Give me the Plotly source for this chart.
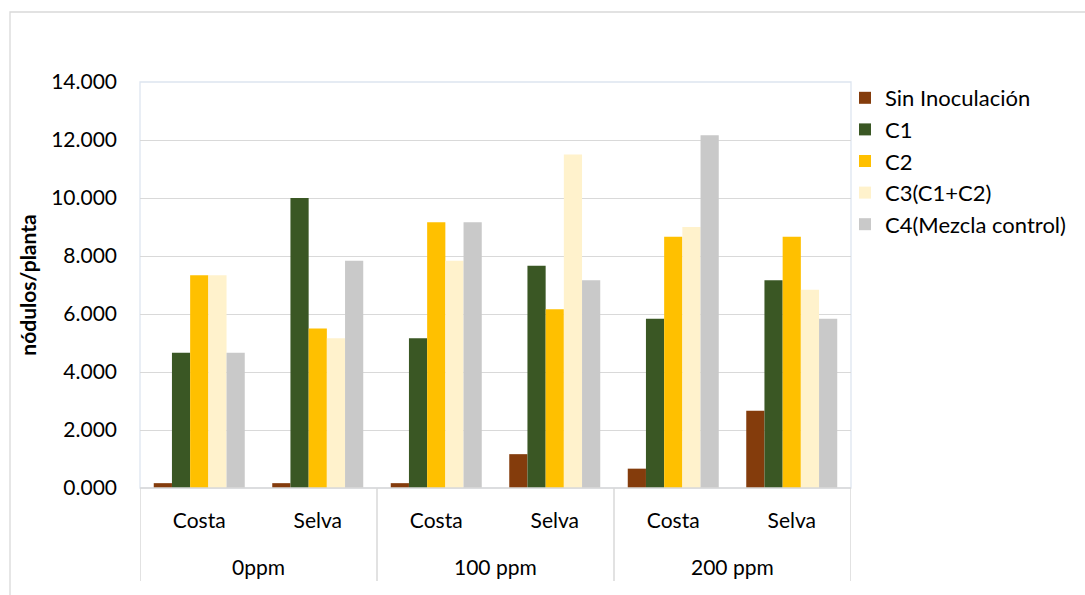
import plotly.graph_objects as go

# Category levels (dose / origin)
doses = ["0ppm", "0ppm", "100 ppm", "100 ppm", "200 ppm", "200 ppm"]
origins = ["Costa", "Selva", "Costa", "Selva", "Costa", "Selva"]
dose_groups = ["0ppm", "100 ppm", "200 ppm"]

# Nodules per plant for each treatment
sin_inoculacion = [0.167, 0.167, 0.167, 1.167, 0.667, 2.667]
c1 = [4.667, 10.0, 5.167, 7.667, 5.833, 7.167]
c2 = [7.333, 5.5, 9.167, 6.167, 8.667, 8.667]
c3 = [7.333, 5.167, 7.833, 11.5, 9.0, 6.833]
c4 = [4.667, 7.833, 9.167, 7.167, 12.167, 5.833]

series_names = ["Sin Inoculación", "C1", "C2", "C3(C1+C2)", "C4(Mezcla control)"]
series_values = [sin_inoculacion, c1, c2, c3, c4]
series_colors = ["#843C0C", "#3A5724", "#FFC000", "#FFF2CC", "#C9C9C9"]

y_ticks = [0, 2, 4, 6, 8, 10, 12, 14]

FONT = "Lato"
FS = 21
GRID = "#D9D9D9"

keys = [f"{d} {o}" for d, o in zip(doses, origins)]

fig = go.Figure()
for name, vals, col in zip(series_names, series_values, series_colors):
    fig.add_trace(go.Bar(
        x=keys, y=vals, name=name,
        marker=dict(color=col, line=dict(width=0)),
    ))

W, H = 1085, 595
ml, mr, mt, mb = 140, 234, 82, 107
ph = H - mt - mb
pw = W - ml - mr


def py(px_y):
    # pixel row -> paper y
    return (H - mb - px_y) / ph


def px(px_x):
    # pixel column -> paper x
    return (px_x - ml) / pw


shapes = []
# outer chart frame
shapes.append(dict(type="rect", xref="paper", yref="paper",
                   x0=px(10), x1=px(1100), y0=py(610), y1=py(12),
                   line=dict(color=GRID, width=1.3), layer="below"))
# plot-area frame
shapes.append(dict(type="rect", xref="paper", yref="paper",
                   x0=0, x1=1, y0=0, y1=1,
                   line=dict(color="#DDE5F0", width=1.3), layer="below"))
# category dividers below the axis
for xv in [-0.5, 1.5, 3.5, 5.5]:
    shapes.append(dict(type="line", xref="x", yref="paper",
                       x0=xv, x1=xv, y0=0, y1=py(581),
                       line=dict(color=GRID, width=1.5)))
# category axis line
shapes.append(dict(type="line", xref="paper", yref="paper",
                   x0=0, x1=1, y0=0, y1=0,
                   line=dict(color=GRID, width=1.5)))

annotations = []
for i, g in enumerate(dose_groups):
    annotations.append(dict(x=2 * i + 0.5, xref="x", y=py(566), yref="paper",
                            text=g, showarrow=False,
                            font=dict(family=FONT, size=FS, color="#000000"),
                            xanchor="center", yanchor="middle"))

fig.update_layout(
    width=W, height=H,
    margin=dict(l=ml, r=mr, t=mt, b=mb, pad=0),
    paper_bgcolor="white", plot_bgcolor="white",
    barmode="group", bargap=0.232, bargroupgap=0,
    font=dict(family=FONT, size=FS, color="#000000"),
    showlegend=True,
    legend=dict(x=px(845), xanchor="left", y=py(77), yanchor="top",
                font=dict(family=FONT, size=22, color="#000000"),
                bgcolor="rgba(0,0,0,0)", borderwidth=0,
                tracegroupgap=0),
    xaxis=dict(type="category", categoryorder="array", categoryarray=keys,
               tickmode="array", tickvals=keys, ticktext=origins,
               showgrid=False, zeroline=False, showline=False,
               ticks="", ticklabelstandoff=18,
               tickfont=dict(family=FONT, size=FS, color="#000000"),
               range=[-0.5, 5.5]),
    yaxis=dict(range=[0, 14], tickmode="array", tickvals=y_ticks,
               tickformat=".3f", showgrid=True, gridcolor=GRID, gridwidth=1.3,
               zeroline=False, showline=False, ticks="",
               ticklabelstandoff=22,
               tickfont=dict(family=FONT, size=FS, color="#000000"),
               title=dict(text="<b>nódulos/planta</b>", standoff=8,
                          font=dict(family=FONT, size=FS, color="#000000"))),
    shapes=shapes,
    annotations=annotations,
)

fig.write_html("out.html")
